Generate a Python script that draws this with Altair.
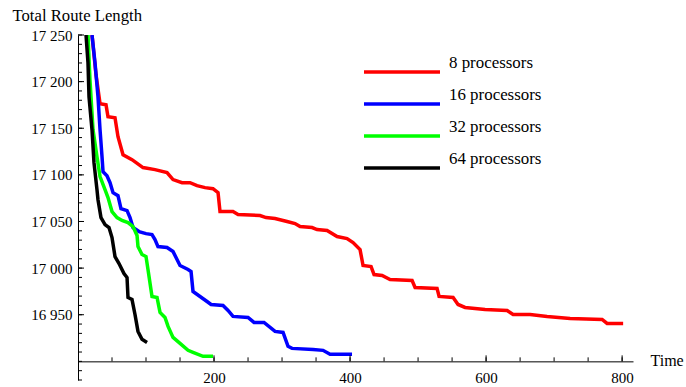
import altair as alt
import pandas as pd

# ---- data ----
series_names = ["8 processors", "16 processors", "32 processors", "64 processors"]
series_colors = ["#ff0000", "#0000ff", "#00ff00", "#000000"]

t8 = [20.6, 26.5, 32.4, 41.2, 44.1, 54.4, 58.8, 66.2, 79.4, 95.6, 113.2, 130.9, 139.7, 152.9, 164.7,
      175.0, 186.8, 198.5, 205.9, 208.8, 227.9, 235.3, 267.6, 276.5, 289.7, 307.4, 319.1, 326.5, 344.1,
      351.5, 366.2, 380.9, 395.6, 404.4, 414.7, 419.1, 430.9, 435.3, 447.1, 458.8, 491.2, 495.6, 527.9,
      530.9, 551.5, 558.8, 569.1, 598.5, 630.9, 639.7, 664.7, 689.7, 723.5, 770.6, 777.9, 801.5]
v8 = [17250, 17207.3, 17176.2, 17175.2, 17162.3, 17161.2, 17140.9, 17121.6, 17116.3, 17107.8, 17105.6,
      17102.4, 17094.9, 17091.6, 17091.6, 17088.4, 17086.3, 17085.2, 17080.9, 17060.6, 17060.6, 17057.5,
      17056.4, 17054.2, 17053.1, 17050.0, 17047.8, 17044.5, 17043.5, 17041.3, 17040.3, 17033.8, 17031.7,
      17027.4, 17019.9, 17002.8, 17001.7, 16993.1, 16992.1, 16987.8, 16986.7, 16979.2, 16978.2, 16969.6,
      16968.5, 16961.0, 16957.8, 16955.7, 16954.6, 16950.3, 16950.3, 16948.2, 16946.0, 16945.0, 16940.7,
      16940.7]

t16 = [20.6, 25.0, 29.4, 32.4, 35.3, 36.8, 42.6, 47.1, 51.5, 58.8, 63.2, 72.1, 76.5, 80.9, 89.7, 100.0,
       108.8, 113.2, 117.6, 130.9, 139.7, 145.6, 150.0, 161.8, 166.2, 169.1, 179.4, 189.7, 195.6, 213.2,
       220.6, 227.9, 250.0, 258.8, 273.5, 289.7, 301.5, 308.8, 314.7, 345.6, 360.3, 370.6, 402.9]
v16 = [17250, 17220.1, 17183.7, 17148.4, 17119.5, 17103.4, 17099.1, 17091.6, 17080.9, 17077.7, 17063.8,
       17061.7, 17054.2, 17043.5, 17039.2, 17037.0, 17036.0, 17030.6, 17023.1, 17022.1, 17017.8, 17009.2,
       17002.8, 16998.5, 16996.4, 16974.9, 16969.6, 16964.2, 16961.0, 16960.0, 16954.6, 16948.2, 16947.1,
       16941.8, 16941.8, 16932.1, 16931.0, 16916.1, 16913.9, 16912.8, 16911.8, 16907.5, 16907.5]

t32 = [14.7, 17.6, 22.1, 27.9, 32.4, 39.7, 44.1, 50.0, 57.4, 64.7, 73.5, 80.9, 86.8, 88.2, 94.1, 100.0,
       102.9, 108.8, 116.2, 120.6, 127.9, 132.4, 139.7, 150.0, 161.8, 169.1, 183.8, 198.5]
v32 = [17250, 17201.9, 17148.4, 17119.5, 17098.1, 17084.2, 17075.6, 17060.6, 17054.2, 17051.1, 17048.8,
       17044.5, 17034.9, 17023.1, 17014.6, 17012.4, 16998.5, 16969.6, 16968.5, 16952.5, 16947.1, 16937.5,
       16925.7, 16919.3, 16911.8, 16909.6, 16905.4, 16905.4]

t64 = [11.8, 14.7, 16.2, 20.6, 23.5, 27.9, 29.4, 33.8, 39.7, 45.6, 50.0, 54.4, 60.3, 67.6, 72.1, 73.5,
       79.4, 83.8, 88.2, 94.1, 101.5]
v64 = [17250, 17220.1, 17183.7, 17148.4, 17113.1, 17084.2, 17073.4, 17054.2, 17046.7, 17043.5, 17032.8,
       17012.4, 17004.9, 16994.2, 16989.9, 16968.5, 16966.4, 16950.3, 16932.1, 16923.6, 16920.3]

x_label_vals = [200, 400, 600, 800]
x_minor_vals = [50, 100, 150, 200, 250, 300, 350, 400, 450, 500, 550, 600, 650, 700, 750, 800]
y_label_vals = [16950, 17000, 17050, 17100, 17150, 17200, 17250]
y_minor_vals = list(range(16880, 17251, 10))
x_domain = [0, 816]
y_domain = [16880, 17250]
x_axis_at = 16900

# ---- layout ----
W, H = 555, 345
LEFT, TOP = 78, 35
FONT = "'Liberation Serif', 'Times New Roman', serif"

rows = []
for name, ts, vs in zip(series_names, [t8, t16, t32, t64], [v8, v16, v32, v64]):
    for i, (t, v) in enumerate(zip(ts, vs)):
        rows.append({"series": name, "t": t, "v": v, "i": i})
df = pd.DataFrame(rows)

xscale = alt.Scale(domain=x_domain, nice=False, zero=False)
yscale = alt.Scale(domain=y_domain, nice=False, zero=False)
x_offset = -(H * (x_axis_at - y_domain[0]) / (y_domain[1] - y_domain[0]))

lines = alt.Chart(df).mark_line(strokeWidth=3.5, clip=True, strokeCap="butt").encode(
    x=alt.X("t:Q", scale=xscale,
            axis=alt.Axis(values=x_label_vals, ticks=False, grid=False, format="d",
                          labelFont=FONT, labelFontSize=15, labelColor="black", labelPadding=9,
                          domainColor="black", domainWidth=1, offset=x_offset,
                          title="Time", titleFont=FONT, titleFontSize=16, titleFontWeight="normal",
                          titleColor="black", titleAnchor="start", titleAlign="left",
                          titleBaseline="middle", titleX=W + 17, titleY=-1)),
    y=alt.Y("v:Q", scale=yscale,
            axis=alt.Axis(values=y_label_vals, ticks=False, grid=False,
                          labelExpr="replace(format(datum.value, ','), ',', ' ')",
                          labelFont=FONT, labelFontSize=15, labelColor="black", labelPadding=6,
                          domainColor="black", domainWidth=1,
                          title="Total Route Length", titleFont=FONT, titleFontSize=16.7,
                          titleFontWeight="normal", titleColor="black", titleAngle=0,
                          titleAlign="left", titleBaseline="middle", titleX=-66, titleY=-20)),
    color=alt.Color("series:N", scale=alt.Scale(domain=series_names, range=series_colors),
                    sort=series_names,
                    legend=alt.Legend(orient="none", legendX=284, legendY=29, title=None,
                                      symbolType="stroke", symbolSize=5776, symbolStrokeWidth=3.5,
                                      clipHeight=16, rowPadding=6, labelOffset=7,
                                      labelFont=FONT, labelFontSize=16.9, labelColor="black",
                                      labelBaseline="bottom", padding=0)),
    order="i:Q",
)

ymaj = pd.DataFrame({"v": y_label_vals})
ymin = pd.DataFrame({"v": y_minor_vals})
xmaj = pd.DataFrame({"t": x_label_vals})
xmin = pd.DataFrame({"t": x_minor_vals})

y_major_ticks = alt.Chart(ymaj).mark_rule(color="black", strokeWidth=1, x2Offset=6).encode(
    x=alt.datum(0, scale=xscale), x2=alt.datum(0), y=alt.Y("v:Q", scale=yscale))
y_minor_ticks = alt.Chart(ymin).mark_rule(color="black", strokeWidth=1, x2Offset=4).encode(
    x=alt.datum(0, scale=xscale), x2=alt.datum(0), y=alt.Y("v:Q", scale=yscale))
x_major_ticks = alt.Chart(xmaj).mark_rule(color="black", strokeWidth=1, y2Offset=-6).encode(
    x=alt.X("t:Q", scale=xscale), y=alt.datum(x_axis_at, scale=yscale), y2=alt.datum(x_axis_at))
x_minor_ticks = alt.Chart(xmin).mark_rule(color="black", strokeWidth=1, y2Offset=-4).encode(
    x=alt.X("t:Q", scale=xscale), y=alt.datum(x_axis_at, scale=yscale), y2=alt.datum(x_axis_at))

chart = alt.layer(lines, y_minor_ticks, y_major_ticks, x_minor_ticks, x_major_ticks).properties(
    width=W, height=H,
    background="white",
    autosize=alt.AutoSizeParams(type="none"),
    padding={"left": LEFT, "top": TOP, "right": 686 - LEFT - W, "bottom": 387 - TOP - H},
).configure_view(stroke=None, strokeWidth=0)

chart.save("out.html", embed_options={"renderer": "svg", "actions": False})
